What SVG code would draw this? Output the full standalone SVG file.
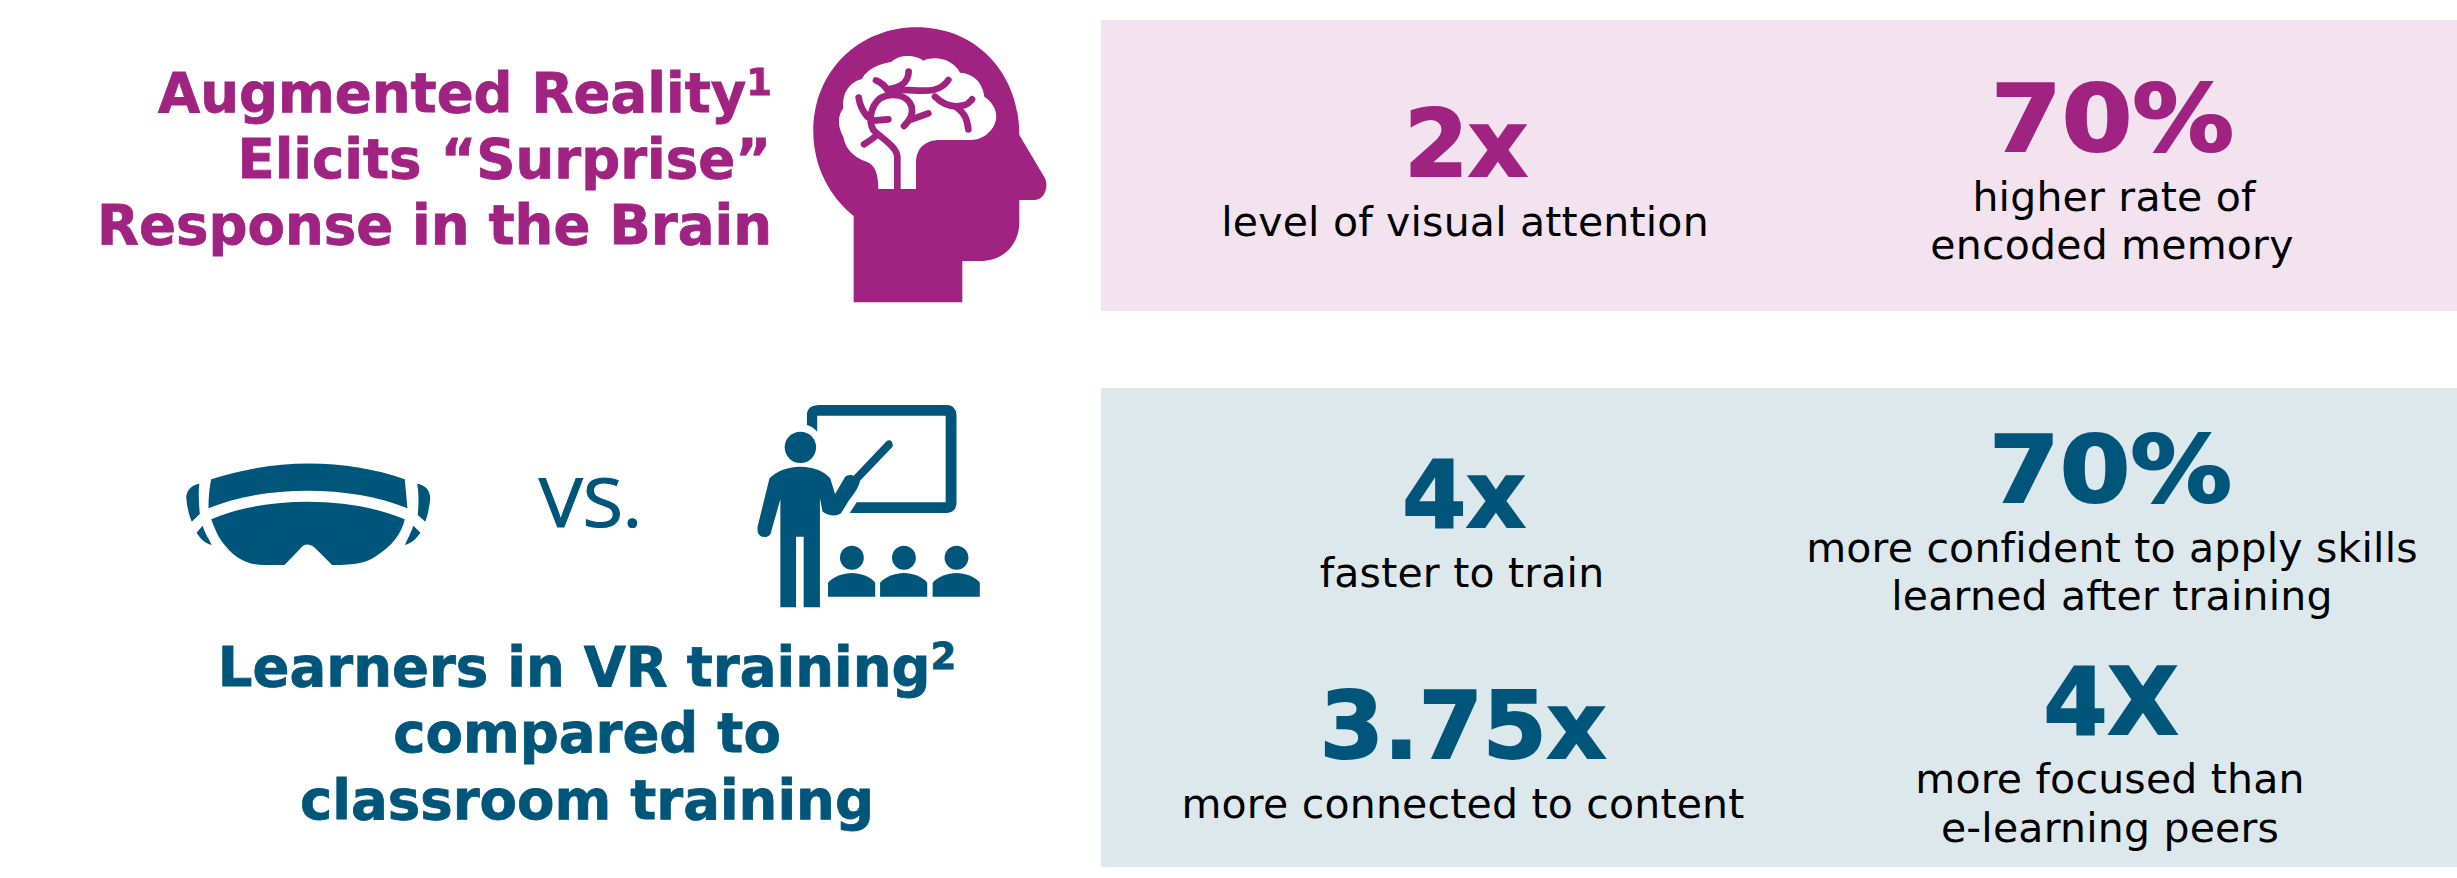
<svg xmlns="http://www.w3.org/2000/svg" width="2457" height="878" viewBox="0 0 2457 878">
<style>
text{font-family:"DejaVu Sans","Liberation Sans",sans-serif}
.h{font-weight:700;font-size:54.5px;text-anchor:middle;stroke-width:.8px}
.hr{font-weight:700;font-size:54.5px;text-anchor:end;stroke-width:.8px}
.b{font-weight:700;font-size:92px;text-anchor:middle;stroke-width:2px}
.s{font-size:41px;text-anchor:middle;letter-spacing:.2px;fill:#000;stroke:none}
.p{fill:#a02382;stroke:#a02382}
.t{fill:#00567a;stroke:#00567a}
.i{stroke:none}
.vein{fill:none;stroke:#a02382;stroke-width:20;stroke-linecap:round;stroke-linejoin:round}
</style>
<rect id="panel-top" x="1101" y="20" width="1356" height="291" fill="#f2e3ee"/>
<rect id="panel-bottom" x="1101" y="388" width="1356" height="479" fill="#dde8ec"/>
<g id="title-ar" class="p">
<text class="hr" x="772" y="112">Augmented Reality<tspan font-size="37" dy="-17">1</tspan></text>
<text class="hr" x="771" y="178">Elicits “Surprise”</text>
<text class="hr" x="772" y="244">Response in the Brain</text>
</g>
<g id="head-icon" transform="translate(780 0) scale(.33333)">
<path class="p i" d="M221 907L221 648C150 590 100 500 100 395C100 210 240 82 410 82C590 82 718 220 718 405L795 535C808 565 790 600 765 600L718 600L718 665C718 735 670 783 600 783L547 783L547 907Z"/>
<path fill="#fff" d="M295 567C295 520 285 495 260 485C215 470 195 440 190 410C175 385 170 350 190 325C185 280 210 245 245 238C265 200 310 190 335 185C360 160 410 165 430 182C470 165 520 180 540 218C585 220 610 255 613 290C645 310 660 350 640 380C625 405 600 420 570 420L480 420C435 420 408 445 408 490L408 567Z"/>
<path class="vein" d="M352 567L352 470C350 440 305 415 280 390C265 365 270 320 300 295C335 275 385 285 395 320C400 345 390 360 372 378M290 405C280 415 265 425 252 433M280 362L325 358M262 350C250 335 240 320 236 293M288 241C305 248 315 258 322 270M322 268C360 262 385 250 386 215M340 268C380 270 430 275 460 270C480 265 495 255 505 240M465 290C490 315 520 325 555 315C565 312 570 305 576 298M530 322C555 340 562 360 565 388M395 358L445 340"/>
</g>
<g id="headset-icon" class="t i" transform="translate(150 390) scale(.542 .33333)">
<path d="M113 268C230 205 360 205 470 268L475 355C370 285 210 285 108 355C108 320 110 290 113 268Z"/>
<path d="M113 388C210 318 370 318 470 388C465 430 445 470 420 495C400 520 380 525 336 525L305 475C295 460 285 460 278 475L248 525L210 525C170 525 150 490 135 460C125 440 118 410 113 388Z"/>
<path d="M91 281C75 285 66 305 67 325C68 350 72 375 77 395L92 372C90 340 89 310 91 281Z"/>
<path d="M493 281C510 285 517 305 517 325C516 350 512 375 508 395L494 375C496 340 496 310 493 281Z"/>
<path d="M97 407L86 428C92 445 102 460 114 465C108 445 100 425 97 407Z"/>
<path d="M486 407L499 428C492 445 482 460 470 465C476 445 482 425 486 407Z"/>
</g>
<text id="vs" x="539" y="527" font-size="68" class="t" stroke-width="1.2" textLength="103" lengthAdjust="spacingAndGlyphs" style="font-family:'Open Sans',sans-serif">VS.</text>
<g id="teacher-icon" class="t i" transform="translate(150 390) scale(.542 .33333)">
<path d="M1212 105L1212 75C1212 55 1220 45 1235 45L1470 45C1482 45 1488 60 1488 75L1488 340C1488 355 1482 369 1470 369L1291 369L1304 337L1468 337L1468 77L1231 77L1231 125C1225 115 1220 108 1212 105Z"/>
<ellipse cx="1200" cy="172" rx="29" ry="47"/>
<path d="M1143 265C1155 245 1175 230 1200 230C1225 230 1245 245 1255 265L1264 312L1282 262C1285 255 1295 253 1298 258L1358 155C1365 145 1372 155 1370 170L1310 272C1308 290 1300 310 1290 330L1275 370C1265 382 1250 375 1241 365L1236 325L1236 652L1206 652L1206 440L1192 440L1192 652L1163 652L1163 328L1146 425C1145 445 1125 448 1121 425L1121 410L1143 265Z"/>
<g id="aud">
<ellipse cx="1295" cy="503" rx="22" ry="36"/><path d="M1251 620L1251 578C1260 560 1280 549 1295 549C1310 549 1330 560 1338 578L1338 620Z"/>
<ellipse cx="1391" cy="503" rx="22" ry="36"/><path d="M1347 620L1347 578C1356 560 1376 549 1391 549C1406 549 1426 560 1434 578L1434 620Z"/>
<ellipse cx="1488" cy="503" rx="22" ry="36"/><path d="M1444 620L1444 578C1453 560 1473 549 1488 549C1503 549 1523 560 1531 578L1531 620Z"/>
</g>
</g>
<g id="title-vr" class="t">
<text class="h" x="587" y="686">Learners in VR training<tspan font-size="37" dy="-17">2</tspan></text>
<text class="h" x="587" y="752">compared to</text>
<text class="h" x="587" y="819">classroom training</text>
</g>
<g id="stat-2x" class="p"><text class="b" x="1466" y="176">2x</text><text class="s" x="1465" y="236">level of visual attention</text></g>
<g id="stat-70a" class="p"><text class="b" x="1991" y="151" style="text-anchor:start" textLength="243" lengthAdjust="spacingAndGlyphs">70%</text><text class="s" x="2114" y="211">higher rate of</text><text class="s" x="2112" y="259">encoded memory</text></g>
<g id="stat-4x" class="t"><text class="b" x="1464" y="527">4x</text><text class="s" x="1462" y="587">faster to train</text></g>
<g id="stat-70b" class="t"><text class="b" x="1989" y="502" style="text-anchor:start" textLength="243" lengthAdjust="spacingAndGlyphs">70%</text><text class="s" x="2112" y="562">more confident to apply skills</text><text class="s" x="2112" y="610">learned after training</text></g>
<g id="stat-375" class="t"><text class="b" x="1463" y="758">3.75x</text><text class="s" x="1463" y="818">more connected to content</text></g>
<g id="stat-4X" class="t"><text class="b" x="2111" y="734">4X</text><text class="s" x="2110" y="793">more focused than</text><text class="s" x="2110" y="842">e-learning peers</text></g>
</svg>
